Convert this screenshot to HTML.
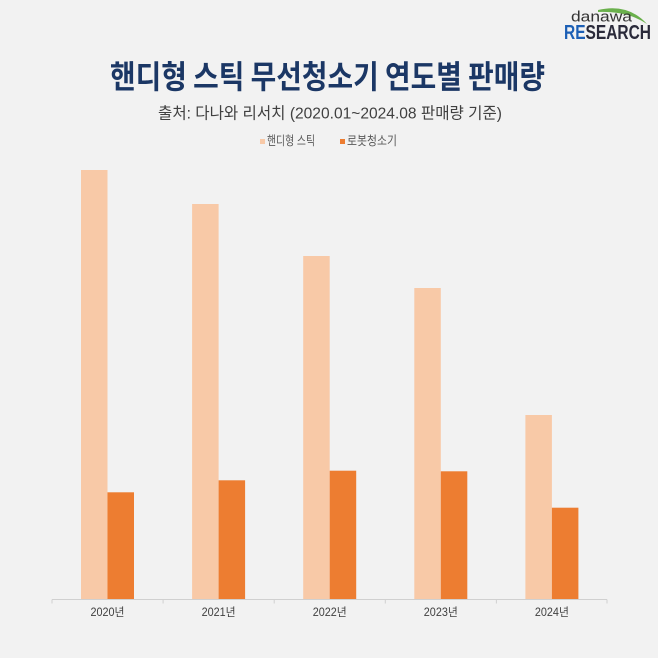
<!DOCTYPE html>
<html><head><meta charset="utf-8">
<style>
html,body{margin:0;padding:0;background:#f2f2f2;}
svg{display:block;}
text{font-family:"Liberation Sans","Noto Sans CJK KR",sans-serif;}
</style></head>
<body>
<svg width="658" height="658" viewBox="0 0 658 658" xmlns="http://www.w3.org/2000/svg">
<rect width="658" height="658" fill="#f2f2f2"/>
<!-- logo -->
<path d="M598 10 Q628 3 647 24 Q628 11 598 12 Z" fill="#6ab04c"/>
<text x="571" y="17" dominant-baseline="central" font-size="15" fill="#333" textLength="61" lengthAdjust="spacingAndGlyphs">danawa</text>
<text x="564" y="33" dominant-baseline="central" font-size="20" font-weight="bold" textLength="87" lengthAdjust="spacingAndGlyphs"><tspan fill="#1c5fb5">RE</tspan><tspan fill="#2a2a3a">SEARCH</tspan></text>
<!-- title -->
<text x="110" y="75" dominant-baseline="central" font-size="32" font-weight="bold" fill="#1b3765" textLength="435" lengthAdjust="spacingAndGlyphs" style="font-family:'Noto Sans CJK KR',sans-serif">핸디형 스틱 무선청소기 연도별 판매량</text>
<text x="158" y="114" dominant-baseline="central" font-size="16" fill="#404040" textLength="344" lengthAdjust="spacingAndGlyphs">출처: 다나와 리서치 (2020.01~2024.08 판매량 기준)</text>
<!-- legend -->
<rect x="260" y="139" width="5" height="5" fill="#f8c9a7"/>
<text x="267" y="141" dominant-baseline="central" font-size="12.5" fill="#595959" textLength="48" lengthAdjust="spacingAndGlyphs">핸디형 스틱</text>
<rect x="340" y="139" width="5" height="5" fill="#ed7d31"/>
<text x="347" y="141" dominant-baseline="central" font-size="12.5" fill="#595959" textLength="50" lengthAdjust="spacingAndGlyphs">로봇청소기</text>
<!-- bars -->
<g fill="#f8c9a7">
<rect x="81" y="170" width="26.5" height="429.5"/>
<rect x="192.1" y="204" width="26.5" height="395.5"/>
<rect x="303.2" y="256" width="26.5" height="343.5"/>
<rect x="414.3" y="288" width="26.5" height="311.5"/>
<rect x="525.4" y="415" width="26.5" height="184.5"/>
</g>
<g fill="#ed7d31">
<rect x="107.5" y="492.3" width="26.5" height="107.2"/>
<rect x="218.6" y="480.3" width="26.5" height="119.2"/>
<rect x="329.7" y="470.7" width="26.5" height="128.8"/>
<rect x="440.8" y="471.3" width="26.5" height="128.2"/>
<rect x="551.9" y="507.7" width="26.5" height="91.8"/>
</g>
<!-- axis -->
<line x1="52" y1="599.5" x2="607" y2="599.5" stroke="#d0d0d0" stroke-width="1"/>
<g stroke="#d0d0d0" stroke-width="1">
<line x1="52" y1="599.5" x2="52" y2="603.5"/>
<line x1="163.1" y1="599.5" x2="163.1" y2="603.5"/>
<line x1="274.2" y1="599.5" x2="274.2" y2="603.5"/>
<line x1="385.3" y1="599.5" x2="385.3" y2="603.5"/>
<line x1="496.4" y1="599.5" x2="496.4" y2="603.5"/>
<line x1="607" y1="599.5" x2="607" y2="603.5"/>
</g>
<g font-size="11.5" fill="#404040">
<text x="90.5" y="613" dominant-baseline="central" textLength="34" lengthAdjust="spacingAndGlyphs">2020년</text>
<text x="201.6" y="613" dominant-baseline="central" textLength="34" lengthAdjust="spacingAndGlyphs">2021년</text>
<text x="312.7" y="613" dominant-baseline="central" textLength="34" lengthAdjust="spacingAndGlyphs">2022년</text>
<text x="423.8" y="613" dominant-baseline="central" textLength="34" lengthAdjust="spacingAndGlyphs">2023년</text>
<text x="534.9" y="613" dominant-baseline="central" textLength="34" lengthAdjust="spacingAndGlyphs">2024년</text>
</g>
</svg>
</body></html>
